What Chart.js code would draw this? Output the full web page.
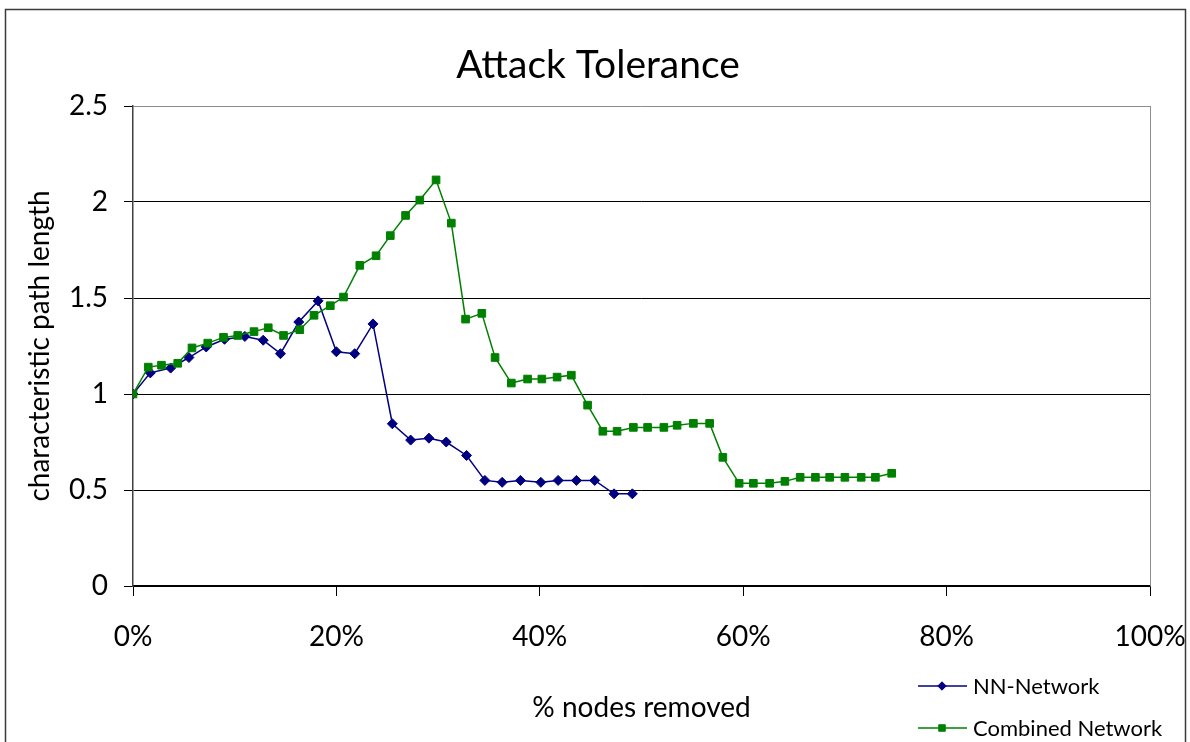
<!DOCTYPE html>
<html>
<head>
<meta charset="utf-8">
<script src="https://cdn.jsdelivr.net/npm/chart.js@4.4.1/dist/chart.umd.min.js"></script>
<style>
  html, body { margin: 0; padding: 0; background: #fff; }
  #wrap { width: 1190px; height: 742px; position: relative; }
</style>
</head>
<body>
<div id="wrap"><canvas id="c" width="1190" height="742"></canvas></div>
<script>
// Texts
const chartTitle = 'Attack Tolerance';
const xAxisTitle = '% nodes removed';
const yAxisTitle = 'characteristic path length';
const seriesNames = ['NN-Network', 'Combined Network'];

// Tick positions
const xTicks = [0, 20, 40, 60, 80, 100];
const yTicks = [0, 0.5, 1, 1.5, 2, 2.5];

// NN-Network: % of nodes removed vs. characteristic path length
const nnRemoved = [0, 1.7, 3.7, 5.5, 7.2, 9.0, 11.0, 12.8, 14.5, 16.3, 18.2, 20.0, 21.8, 23.6,
  25.5, 27.3, 29.1, 30.8, 32.8, 34.6, 36.3, 38.1, 40.1, 41.8, 43.6, 45.4, 47.3, 49.1];
const nnPathLength = [1.0, 1.11, 1.135, 1.19, 1.245, 1.285, 1.30, 1.28, 1.21, 1.375, 1.485, 1.22, 1.21, 1.365,
  0.845, 0.76, 0.77, 0.75, 0.68, 0.55, 0.54, 0.55, 0.54, 0.55, 0.55, 0.55, 0.48, 0.48];

// Combined Network
const combinedRemoved = [0, 1.5, 2.8, 4.4, 5.8, 7.35, 8.9, 10.3, 11.9, 13.3, 14.8, 16.4, 17.8, 19.4, 20.7,
  22.3, 23.9, 25.3, 26.8, 28.2, 29.8, 31.3, 32.7, 34.3, 35.6, 37.2, 38.8, 40.2, 41.7, 43.1,
  44.7, 46.2, 47.6, 49.2, 50.6, 52.2, 53.5, 55.1, 56.7, 58.0, 59.6, 61.0, 62.6, 64.1, 65.6,
  67.1, 68.5, 70.0, 71.6, 73.0, 74.6];
const combinedPathLength = [1.0, 1.14, 1.15, 1.16, 1.24, 1.265, 1.295, 1.305, 1.325, 1.345, 1.305, 1.335, 1.41, 1.46, 1.505,
  1.67, 1.72, 1.825, 1.93, 2.01, 2.115, 1.89, 1.39, 1.42, 1.19, 1.057, 1.078, 1.078, 1.088, 1.098,
  0.942, 0.806, 0.806, 0.826, 0.826, 0.826, 0.837, 0.847, 0.847, 0.67, 0.535, 0.535, 0.535, 0.545, 0.566,
  0.566, 0.566, 0.566, 0.566, 0.566, 0.587];

const toPoints = (xs, ys) => xs.map((x, i) => ({ x: x, y: ys[i] }));

const FONT = 'Lato, "Open Sans", sans-serif';
Chart.defaults.font.family = FONT;
Chart.defaults.color = '#000';

// White background and the outer frame around the whole chart
const framePlugin = {
  id: 'frame',
  beforeDraw(chart) {
    const ctx = chart.ctx;
    ctx.save();
    ctx.fillStyle = '#fff';
    ctx.fillRect(0, 0, chart.width, chart.height);
    ctx.strokeStyle = '#3a3a3a';
    ctx.lineWidth = 1.5;
    ctx.strokeRect(5.5, 9.5, 1180, 800);
    ctx.restore();
  }
};

// Grey right edge of the plot area
const plotEdgePlugin = {
  id: 'plotEdge',
  beforeDatasetsDraw(chart) {
    const { ctx, chartArea: a } = chart;
    ctx.save();
    ctx.strokeStyle = '#8c8c8c';
    ctx.lineWidth = 1;
    ctx.beginPath();
    ctx.moveTo(a.right + 0.5, a.top);
    ctx.lineTo(a.right + 0.5, a.bottom);
    ctx.stroke();
    ctx.restore();
  }
};

// Chart heading
const headingPlugin = {
  id: 'heading',
  afterDraw(chart) {
    const ctx = chart.ctx;
    ctx.save();
    ctx.font = '39px ' + FONT;
    ctx.fillStyle = '#000';
    ctx.textAlign = 'center';
    ctx.textBaseline = 'alphabetic';
    ctx.fillText(chartTitle, 598, 78);
    ctx.restore();
  }
};

// Stacked legend in the lower right corner
const cornerLegendPlugin = {
  id: 'cornerLegend',
  afterDraw(chart) {
    const ctx = chart.ctx;
    ctx.save();
    chart.data.datasets.forEach((ds, i) => {
      const y = 686 + i * 42;
      ctx.strokeStyle = ds.borderColor;
      ctx.lineWidth = 1.5;
      ctx.beginPath();
      ctx.moveTo(918, y);
      ctx.lineTo(967, y);
      ctx.stroke();
      ctx.fillStyle = ds.pointBackgroundColor;
      ctx.strokeStyle = ds.pointBorderColor;
      ctx.lineWidth = 1;
      Chart.helpers.drawPoint(ctx, { pointStyle: ds.pointStyle, radius: ds.pointRadius - 0.8, rotation: 0, borderWidth: 1 }, 942, y);
      ctx.fillStyle = '#000';
      ctx.font = '22px ' + FONT;
      ctx.textAlign = 'left';
      ctx.textBaseline = 'alphabetic';
      ctx.fillText(ds.label, 973, y + 8);
    });
    ctx.restore();
  }
};

function build() {
  new Chart(document.getElementById('c'), {
    type: 'line',
    data: {
      datasets: [
        {
          label: seriesNames[0],
          data: toPoints(nnRemoved, nnPathLength),
          borderColor: '#000080',
          backgroundColor: '#000080',
          pointBackgroundColor: '#000080',
          pointBorderColor: '#000080',
          borderWidth: 1.5,
          pointStyle: 'rectRot',
          pointRadius: 5,
          pointBorderWidth: 1,
          tension: 0,
          fill: false,
          order: 2
        },
        {
          label: seriesNames[1],
          data: toPoints(combinedRemoved, combinedPathLength),
          borderColor: '#008000',
          backgroundColor: '#008000',
          pointBackgroundColor: '#008000',
          pointBorderColor: '#008000',
          borderWidth: 1.5,
          pointStyle: 'rect',
          pointRadius: 5.4,
          pointBorderWidth: 1,
          tension: 0,
          fill: false,
          order: 1
        }
      ]
    },
    options: {
      responsive: false,
      animation: false,
      events: [],
      layout: { padding: { left: 20, top: 106, right: 40, bottom: 0 } },
      plugins: {
        legend: { display: false },
        title: { display: false },
        tooltip: { enabled: false }
      },
      scales: {
        x: {
          type: 'linear',
          min: 0,
          max: 100,
          afterBuildTicks: s => { s.ticks = xTicks.map(v => ({ value: v })); },
          afterFit: s => { s.height = 156; s.paddingLeft = 0; s.paddingRight = 0; },
          ticks: {
            callback: v => v + '%',
            font: { size: 28 },
            color: '#000',
            padding: 24,
            maxRotation: 0
          },
          grid: {
            drawOnChartArea: false,
            drawTicks: true,
            tickLength: 10,
            tickColor: '#000',
            tickWidth: 1
          },
          border: { display: true, color: '#000', width: 1.5 },
          title: {
            display: true,
            text: xAxisTitle,
            font: { size: 28 },
            color: '#000',
            padding: { top: 0, bottom: 17 }
          }
        },
        y: {
          type: 'linear',
          min: 0,
          max: 2.5,
          afterBuildTicks: s => { s.ticks = yTicks.map(v => ({ value: v })); },
          afterFit: s => { s.width = 113; },
          ticks: {
            callback: v => String(v),
            font: { size: 28 },
            color: '#000',
            padding: 16
          },
          grid: {
            color: c => (c.tick && c.tick.value === 2.5) ? '#8c8c8c' : '#000',
            lineWidth: 1,
            drawTicks: true,
            tickLength: 9,
            tickColor: '#000'
          },
          border: { display: true, color: '#404040', width: 1.5 },
          title: {
            display: true,
            text: yAxisTitle,
            font: { size: 28 },
            color: '#000',
            padding: { top: 3, bottom: 0 }
          }
        }
      }
    },
    plugins: [framePlugin, plotEdgePlugin, headingPlugin, cornerLegendPlugin]
  });
}

if (document.fonts && document.fonts.load) {
  Promise.all([document.fonts.load('28px Lato'), document.fonts.load('39px Lato')])
    .then(build, build);
} else {
  build();
}
</script>
</body>
</html>
